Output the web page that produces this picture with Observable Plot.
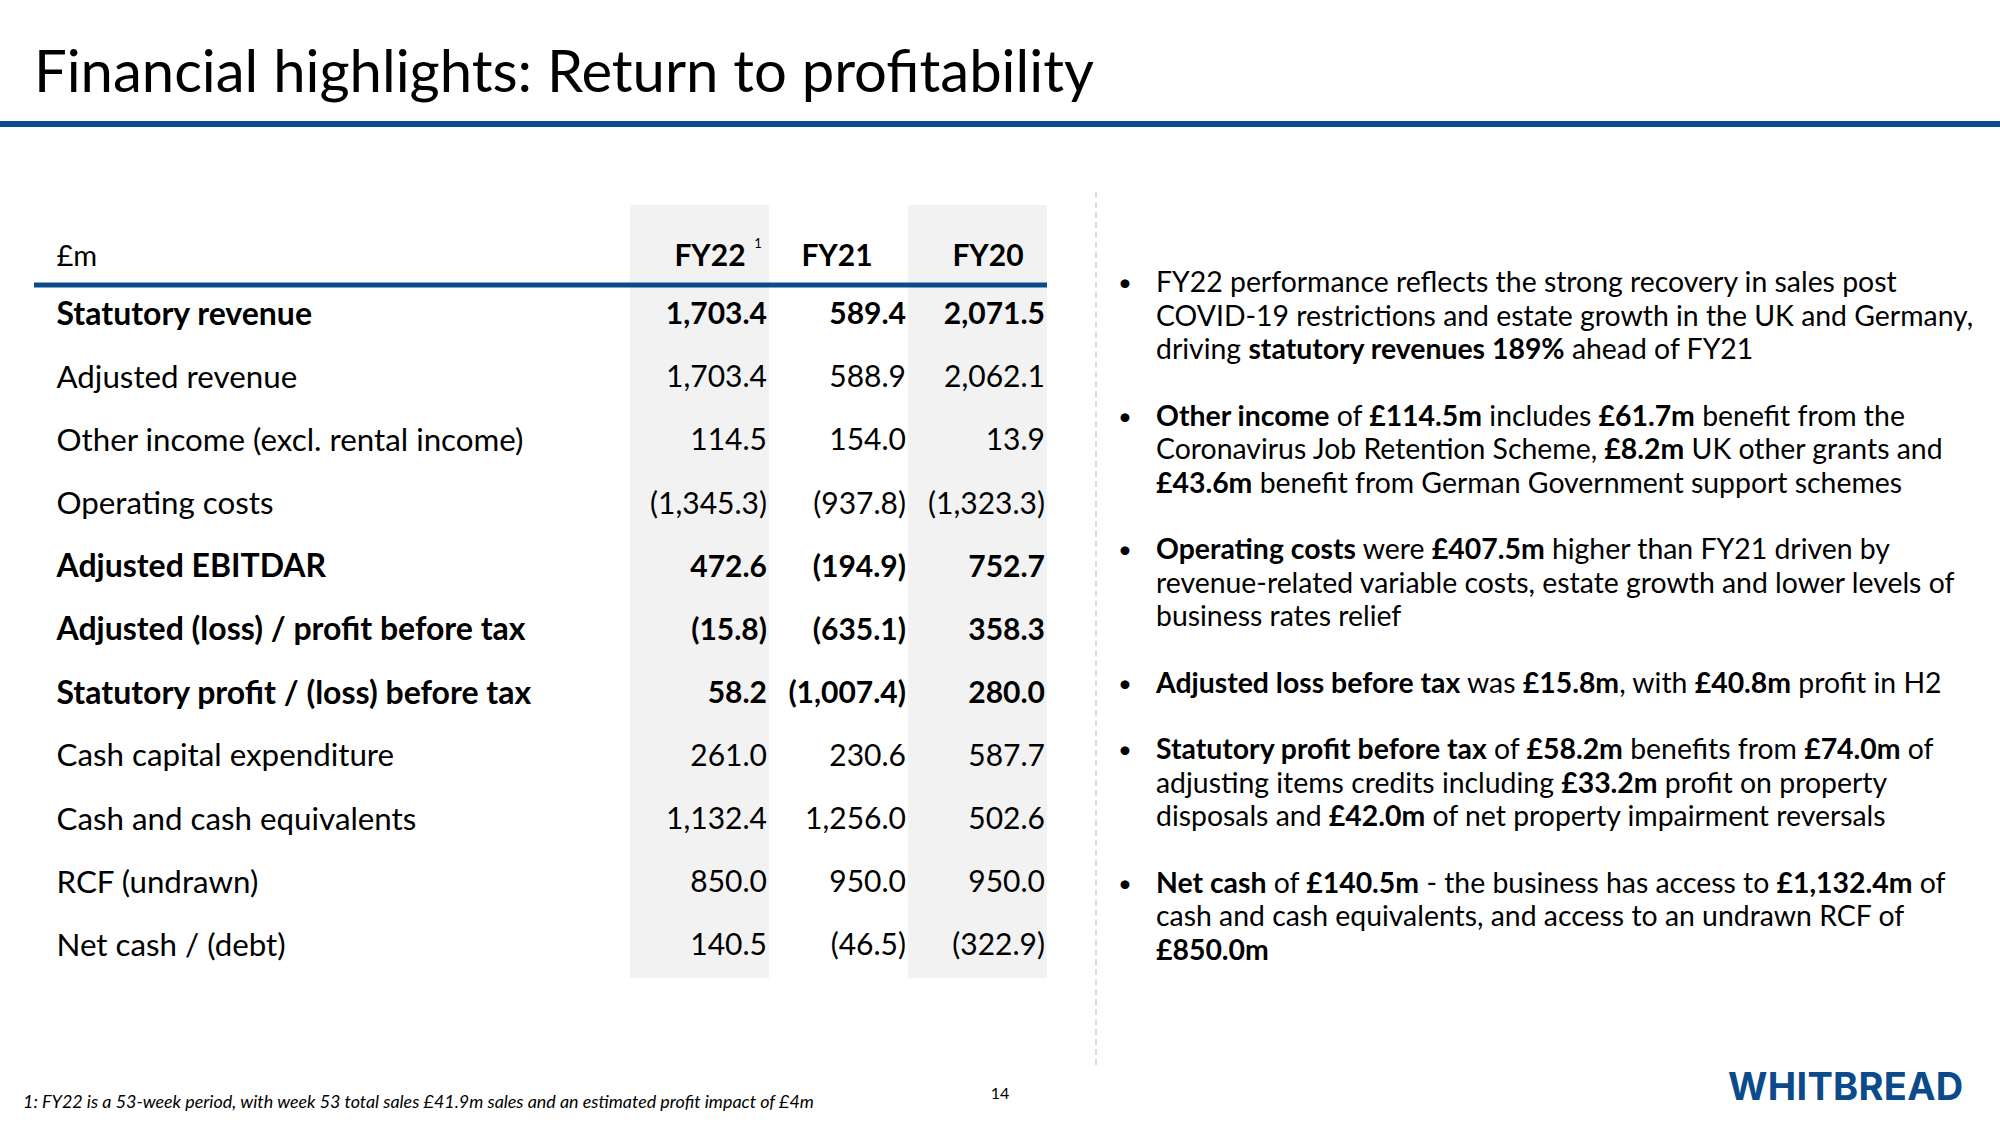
<!DOCTYPE html>
<html>
<head>
<meta charset="utf-8">
<script src="https://cdn.jsdelivr.net/npm/d3@7"></script>
<script src="https://cdn.jsdelivr.net/npm/@observablehq/plot@0.6"></script>
<style>
  html, body { margin: 0; padding: 0; }
  body { width: 2000px; height: 1125px; position: relative; overflow: hidden; background: #fff;
         font-family: Lato, "Noto Sans", sans-serif; color: #000; }
  #title { position: absolute; left: 34px; top: 41px; font-size: 58px; line-height: 58px; white-space: nowrap; }
  #titleRule { position: absolute; left: 0; top: 121px; width: 2000px; height: 6px; background: #0b4a8b; }
  #table { position: absolute; left: 0; top: 190px; }
  #divider { position: absolute; left: 1095px; top: 192px; height: 873px; border-left: 2px dashed #dcdcdc; }
  #bullets { position: absolute; left: 1124px; top: 265px; font-size: 28.4px; line-height: 33.5px; }
  .para { position: relative; padding-left: 32px; margin-bottom: 33px; white-space: nowrap; }
  .para::before { content: "•"; position: absolute; left: -6px; top: 0; font-size: 24px; }
  .para b { font-weight: 700; }
  #foot { position: absolute; left: 23px; top: 1090px; font-size: 17.9px; font-style: italic; white-space: nowrap; }
  #page { position: absolute; left: 0; width: 2000px; text-align: center; top: 1083px; font-size: 16px; }
  #logo { position: absolute; left: 1728px; top: 1067px; font-family: Inter, "Noto Sans", sans-serif; font-weight: 700;
          font-size: 38px; line-height: 38px; color: #0b4a8b; letter-spacing: 0.3px; }
</style>
</head>
<body>
<div id="title">Financial highlights: Return to profitability</div>
<div id="titleRule"></div>
<div id="table"></div>
<div id="divider"></div>
<div id="bullets"></div>
<div id="foot">1: FY22 is a 53-week period, with week 53 total sales £41.9m sales and an estimated profit impact of £4m</div>
<div id="page">14</div>
<div id="logo">WHITBREAD</div>
<script>
// ---- data ----
const unitLabel = "£m";
const years = ["FY22", "FY21", "FY20"];
const rowLabels = [
  "Statutory revenue",
  "Adjusted revenue",
  "Other income (excl. rental income)",
  "Operating costs",
  "Adjusted EBITDAR",
  "Adjusted (loss) / profit before tax",
  "Statutory profit / (loss) before tax",
  "Cash capital expenditure",
  "Cash and cash equivalents",
  "RCF (undrawn)",
  "Net cash / (debt)"
];
const boldRows = [
  "Statutory revenue",
  "Adjusted EBITDAR",
  "Adjusted (loss) / profit before tax",
  "Statutory profit / (loss) before tax"
];
const fy22 = [1703.4, 1703.4, 114.5, -1345.3, 472.6, -15.8, 58.2, 261.0, 1132.4, 850.0, 140.5];
const fy21 = [589.4, 588.9, 154.0, -937.8, -194.9, -635.1, -1007.4, 230.6, 1256.0, 950.0, -46.5];
const fy20 = [2071.5, 2062.1, 13.9, -1323.3, 752.7, 358.3, 280.0, 587.7, 502.6, 950.0, -322.9];
const shadedYears = ["FY22", "FY20"];
const footnoteMark = "1";

const bulletLines = [
  ["FY22 performance reflects the strong recovery in sales post",
   "COVID-19 restrictions and estate growth in the UK and Germany,",
   "driving **statutory revenues 189%** ahead of FY21"],
  ["**Other income** of **£114.5m** includes **£61.7m** benefit from the",
   "Coronavirus Job Retention Scheme, **£8.2m** UK other grants and",
   "**£43.6m** benefit from German Government support schemes"],
  ["**Operating costs** were **£407.5m** higher than FY21 driven by",
   "revenue-related variable costs, estate growth and lower levels of",
   "business rates relief"],
  ["**Adjusted loss before tax** was **£15.8m**, with **£40.8m** profit in H2"],
  ["**Statutory profit before tax** of **£58.2m** benefits from **£74.0m** of",
   "adjusting items credits including **£33.2m** profit on property",
   "disposals and **£42.0m** of net property impairment reversals"],
  ["**Net cash** of **£140.5m** - the business has access to **£1,132.4m** of",
   "cash and cash equivalents, and access to an undrawn RCF of",
   "**£850.0m**"]
];

// ---- build ----
const series = {FY22: fy22, FY21: fy21, FY20: fy20};
const rows = rowLabels.map((label, i) => ({label, idx: i + 1, bold: boldRows.includes(label)}));
const cells = [];
for (const y of years) rows.forEach((r, i) => cells.push({year: y, idx: r.idx, bold: r.bold, value: series[y][i]}));
const num = d3.format(",.1f");
const fmt = v => v < 0 ? `(${num(-v)})` : num(v);

const font = "Lato, 'Noto Sans', sans-serif";
const labelDx = -573;
const valueDx = 67;

const chart = Plot.plot({
  width: 1080,
  height: 810,
  marginLeft: 629,
  marginRight: 33,
  marginTop: 15,
  marginBottom: 22,
  x: {type: "band", domain: years, padding: 0, axis: null},
  y: {domain: [-0.73, 11.52], reverse: true, axis: null},
  style: {fontFamily: font, fontSize: "30px", color: "#000", background: "transparent", overflow: "visible"},
  marks: [
    Plot.cell(shadedYears, {x: d => d, fill: "#f2f2f2"}),
    Plot.ruleY([0.53], {stroke: "#0b4a8b", strokeWidth: 5, insetLeft: -595}),
    // header
    Plot.text([unitLabel], {y: () => 0, text: d => d, frameAnchor: "left", textAnchor: "start", dx: labelDx, dy: 5, fill: "#000", fontSize: 29}),
    Plot.text(years.filter(d => d !== "FY21"), {x: d => d, y: () => 0, text: d => d, fontWeight: "bold", dx: 10, dy: 5, fill: "#000"}),
    Plot.text(years.filter(d => d === "FY21"), {x: d => d, y: () => 0, text: d => d, fontWeight: "bold", dx: -2, dy: 5, fill: "#000"}),
    Plot.text([years[0]], {x: d => d, y: () => 0, text: () => footnoteMark, fontSize: 13, dx: 58, dy: -8, fill: "#000"}),
    // row labels
    Plot.text(rows.filter(r => r.bold), {y: "idx", text: "label", frameAnchor: "left", textAnchor: "start", dx: labelDx, fontWeight: "bold", fontSize: 32, fill: "#000"}),
    Plot.text(rows.filter(r => !r.bold), {y: "idx", text: "label", frameAnchor: "left", textAnchor: "start", dx: labelDx, fontSize: 31.3, fill: "#000"}),
    // values
    Plot.text(cells.filter(c => c.bold), {x: "year", y: "idx", text: d => fmt(d.value), textAnchor: "end", dx: valueDx, fontWeight: "bold", fill: "#000"}),
    Plot.text(cells.filter(c => !c.bold), {x: "year", y: "idx", text: d => fmt(d.value), textAnchor: "end", dx: valueDx, fill: "#000"})
  ]
});
document.getElementById("table").appendChild(chart);

// bullets
const esc = s => s.replace(/&/g, "&amp;").replace(/</g, "&lt;");
const md = s => esc(s).replace(/\*\*(.+?)\*\*/g, "<b>$1</b>");
const bl = document.getElementById("bullets");
for (const lines of bulletLines) {
  const p = document.createElement("div");
  p.className = "para";
  p.innerHTML = lines.map(md).join("<br>");
  bl.appendChild(p);
}
</script>
</body>
</html>
